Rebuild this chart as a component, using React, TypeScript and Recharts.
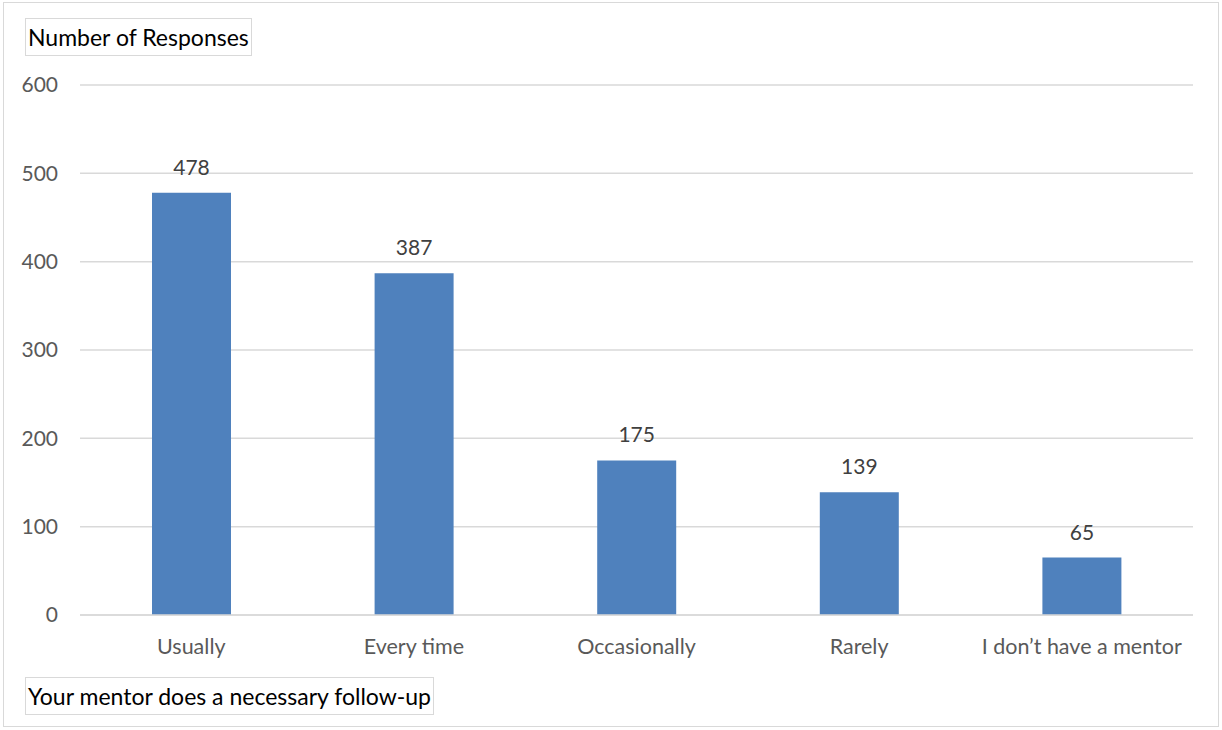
import { BarChart, Bar, XAxis, YAxis, CartesianGrid, LabelList } from "recharts";

const categories = ["Usually", "Every time", "Occasionally", "Rarely", "I don’t have a mentor"];
const responses = [478, 387, 175, 139, 65];
const yTicks = [0, 100, 200, 300, 400, 500, 600];

const chartData = categories.map((name, i) => ({ name, responses: responses[i] }));

const font = "Lato, 'Open Sans', sans-serif";

const boxStyle: React.CSSProperties = {
  position: "absolute",
  border: "1px solid #d9d9d9",
  background: "#fff",
  color: "#000",
  fontFamily: font,
  fontSize: 23,
  padding: "4px 2px",
  lineHeight: "28px",
  whiteSpace: "nowrap",
};

export default function App() {
  return (
    <div style={{ position: "absolute", left: 0, top: 0, width: 1222, height: 730, background: "#fff" }}>
      <div
        style={{
          position: "absolute",
          left: 3,
          top: 2,
          width: 1216,
          height: 725,
          border: "1px solid #d9d9d9",
          boxSizing: "border-box",
        }}
      />
      <BarChart
        width={1222}
        height={730}
        data={chartData}
        margin={{ top: 85, right: 29, left: 0, bottom: 85 }}
        style={{ position: "absolute", left: 0, top: 0, fontFamily: font }}
      >
        <CartesianGrid vertical={false} stroke="#d9d9d9" strokeWidth={1.5} />
        <XAxis
          dataKey="name"
          axisLine={{ stroke: "#d9d9d9", strokeWidth: 1.5 }}
          tickLine={false}
          tickSize={0}
          tickMargin={24}
          tick={{ fill: "#595959", fontSize: 21.5 }}
          interval={0}
        />
        <YAxis
          width={80}
          domain={[0, 600]}
          ticks={yTicks}
          axisLine={false}
          tickLine={false}
          tickSize={0}
          tickMargin={22}
          tick={{ fill: "#595959", fontSize: 21 }}
        />
        <Bar dataKey="responses" fill="#4f81bd" barSize={79} isAnimationActive={false}>
          <LabelList dataKey="responses" position="top" offset={18} fill="#404040" fontSize={21} />
        </Bar>
      </BarChart>
      <div style={{ ...boxStyle, left: 25, top: 18 }}>Number of Responses</div>
      <div style={{ ...boxStyle, left: 25, top: 677 }}>Your mentor does a necessary follow-up</div>
    </div>
  );
}
